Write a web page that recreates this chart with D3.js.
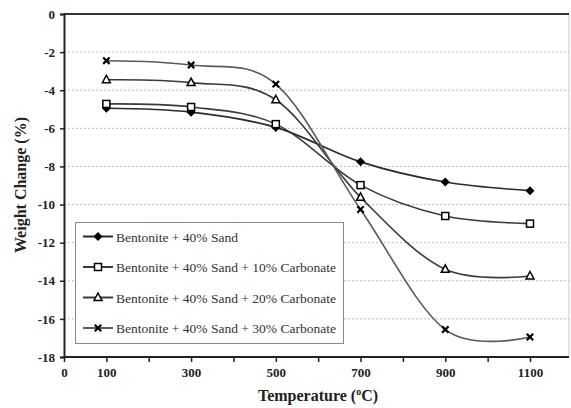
<!DOCTYPE html>
<html><head><meta charset="utf-8">
<script src="https://cdn.jsdelivr.net/npm/d3@7"></script>
<style>body{margin:0;background:#fff}svg{display:block}</style>
</head><body>
<svg id="c" width="571" height="408"></svg>
<script>
const temps = [100, 300, 500, 700, 900, 1100];
const seriesNames = [
  "Bentonite + 40% Sand",
  "Bentonite + 40% Sand + 10% Carbonate",
  "Bentonite + 40% Sand + 20% Carbonate",
  "Bentonite + 40% Sand + 30% Carbonate"
];
const sand0 = [-4.95, -5.15, -5.95, -7.76, -8.82, -9.27];
const carb10 = [-4.72, -4.88, -5.78, -8.98, -10.6, -11.0];
const carb20 = [-3.45, -3.6, -4.5, -9.62, -13.4, -13.75];
const carb30 = [-2.45, -2.68, -3.68, -10.26, -16.56, -16.95];
const yTicks = [0, -2, -4, -6, -8, -10, -12, -14, -16, -18];
const xTickMarks = [0, 100, 200, 300, 400, 500, 600, 700, 800, 900, 1000, 1100, 1200];
const xTickLabels = [0, 100, 300, 500, 700, 900, 1100];

const allSeries = [sand0, carb10, carb20, carb30];
const markers = ["diamond", "square", "triangle", "cross"];
const lineColors = ["#2a2a2a", "#3a3a3a", "#3a3a3a", "#5a5a5a"];

const svg = d3.select("#c");
const x = d3.scaleLinear().domain([0, 1100]).range([64, 530]);
const y = d3.scaleLinear().domain([0, -18]).range([14, 357]);
const L = 64, R = 569, T = 14, B = 357;
const font = "'Liberation Serif', 'Times New Roman', serif";

// gridlines
svg.append("g").selectAll("line").data(yTicks.filter(v => v < 0 && v > -18)).join("line")
  .attr("x1", L).attr("x2", R).attr("y1", d => y(d)).attr("y2", d => y(d))
  .attr("stroke", "#bdbdbd").attr("stroke-width", 1).attr("stroke-dasharray", "2,2");

// frame
svg.append("line").attr("x1", R).attr("x2", R).attr("y1", T).attr("y2", B).attr("stroke", "#c8c8c8");
svg.append("line").attr("x1", L).attr("x2", R).attr("y1", T).attr("y2", T).attr("stroke", "#333").attr("stroke-width", 2);

// y axis
const yAxis = d3.axisLeft(y).tickValues(yTicks).tickSize(4).tickPadding(5).tickFormat(d => d);
const gy = svg.append("g").attr("transform", `translate(${L},0)`).call(yAxis).attr("font-family", font);
gy.select(".domain").attr("stroke", "#222").attr("stroke-width", 2);
gy.selectAll(".tick line").attr("stroke", "#222").attr("stroke-width", 1.5);
gy.selectAll("text").attr("font-family", font).attr("font-weight", "bold").attr("font-size", 13).attr("fill", "#222");

// x axis
const xAxis = d3.axisBottom(x).tickValues(xTickMarks).tickSize(5).tickPadding(6)
  .tickFormat(d => xTickLabels.includes(d) ? d : "");
const gx = svg.append("g").attr("transform", `translate(0,${B})`).call(xAxis).attr("font-family", font);
gx.select(".domain").attr("d", `M${L},0H${R}`).attr("stroke", "#222").attr("stroke-width", 2);
gx.selectAll(".tick line").attr("stroke", "#222").attr("stroke-width", 1.5);
gx.selectAll("text").attr("font-family", font).attr("font-weight", "bold").attr("font-size", 13).attr("fill", "#222");

// axis titles
svg.append("text").attr("transform", "translate(26,185) rotate(-90)").attr("text-anchor", "middle")
  .attr("font-family", font).attr("font-weight", "bold").attr("font-size", 16).attr("fill", "#222")
  .text("Weight Change (%)");
const xt = svg.append("text").attr("x", 318).attr("y", 401).attr("text-anchor", "middle")
  .attr("font-family", font).attr("font-weight", "bold").attr("font-size", 16).attr("fill", "#222");
xt.append("tspan").text("Temperature (");
xt.append("tspan").attr("dy", -6).attr("font-size", 10).text("o");
xt.append("tspan").attr("dy", 6).text("C)");

// markers
function drawMarker(g, type, cx, cy) {
  if (type === "diamond") {
    g.append("path").attr("d", `M${cx},${cy-4.5}L${cx+4.5},${cy}L${cx},${cy+4.5}L${cx-4.5},${cy}Z`).attr("fill", "#000");
  } else if (type === "square") {
    g.append("rect").attr("x", cx-3.5).attr("y", cy-3.5).attr("width", 7).attr("height", 7)
      .attr("fill", "#fff").attr("stroke", "#000").attr("stroke-width", 1.5);
  } else if (type === "triangle") {
    g.append("path").attr("d", `M${cx},${cy-4.5}L${cx+4},${cy+3}L${cx-4},${cy+3}Z`)
      .attr("fill", "#fff").attr("stroke", "#000").attr("stroke-width", 1.5);
  } else {
    g.append("path").attr("d", `M${cx-3.2},${cy-3.2}L${cx+3.2},${cy+3.2}M${cx+3.2},${cy-3.2}L${cx-3.2},${cy+3.2}`)
      .attr("stroke", "#000").attr("stroke-width", 2.2);
  }
}

// lines
const line = d3.line().x(d => x(d[0])).y(d => y(d[1])).curve(d3.curveCatmullRom.alpha(0));
allSeries.forEach((s, i) => {
  const pts = temps.map((t, j) => [t, s[j]]);
  svg.append("path").attr("d", line(pts)).attr("fill", "none")
    .attr("stroke", lineColors[i]).attr("stroke-width", 1.6);
});
allSeries.forEach((s, i) => {
  const g = svg.append("g");
  temps.forEach((t, j) => drawMarker(g, markers[i], x(t), y(s[j])));
});

// legend
const lg = svg.append("g");
lg.append("rect").attr("x", 75.5).attr("y", 222.5).attr("width", 268).attr("height", 121)
  .attr("fill", "#fff").attr("stroke", "#8a8a8a").attr("stroke-width", 1);
const rowY = [236.5, 267, 297.5, 328];
seriesNames.forEach((name, i) => {
  const ry = rowY[i];
  lg.append("line").attr("x1", 83).attr("x2", 113).attr("y1", ry).attr("y2", ry)
    .attr("stroke", lineColors[i]).attr("stroke-width", 2);
  drawMarker(lg, markers[i], 98, ry);
  lg.append("text").attr("x", 116).attr("y", ry + 5).attr("font-family", font)
    .attr("font-size", 13.5).attr("fill", "#333").text(name);
});
</script>
</body></html>
